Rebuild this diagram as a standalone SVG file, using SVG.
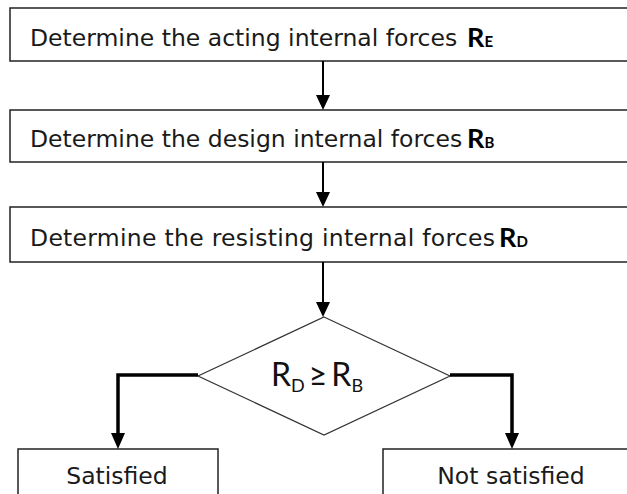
<svg xmlns="http://www.w3.org/2000/svg" width="627" height="494" viewBox="0 0 627 494">
<style>
.box{fill:#fff;stroke:#222;stroke-width:1.5}
.dia{fill:#fff;stroke:#333;stroke-width:1.2}
.t{font-family:"DejaVu Sans",Verdana,sans-serif;font-size:23.5px;fill:#1a1a1a}
.rb{font-family:Lato,"Open Sans",sans-serif;font-weight:bold;font-size:27px;fill:#000}
.rs{font-size:15px}
.rd{font-family:Lato,"Open Sans",sans-serif;font-size:32px;fill:#111}
.rds{font-size:18px}
.c{stroke:#000;stroke-width:2;fill:none}
.ct{stroke:#000;stroke-width:3.5;fill:none}
</style>
<rect width="627" height="494" fill="#fff"/>
<g id="box1"><rect class="box" x="10" y="8" width="630" height="53"/>
<text class="t" x="30" y="46">Determine the acting internal forces</text>
<text class="rb" x="467" y="47">R<tspan class="rs">E</tspan></text></g>
<g id="box2"><rect class="box" x="10" y="110" width="630" height="52"/>
<text class="t" x="30" y="147">Determine the design internal forces</text>
<text class="rb" x="467" y="148">R<tspan class="rs">B</tspan></text></g>
<g id="box3"><rect class="box" x="10" y="207" width="630" height="55"/>
<text class="t" x="30" y="246" textLength="465" lengthAdjust="spacing">Determine the resisting internal forces</text>
<text class="rb" x="499" y="247">R<tspan class="rs">D</tspan></text></g>
<g id="decision"><polygon class="dia" points="324,317 450,376 324,435 198,376"/>
<text class="rd" x="271" y="386">R<tspan class="rds" dy="6">D</tspan><tspan dy="-6" dx="4">≥</tspan><tspan dx="4">R</tspan><tspan class="rds" dy="6">B</tspan></text></g>
<g id="satisfied"><rect class="box" x="18" y="449" width="200" height="60"/>
<text class="t" x="117" y="484" text-anchor="middle">Satisfied</text></g>
<g id="notsatisfied"><rect class="box" x="383" y="449" width="260" height="60"/>
<text class="t" x="511" y="484" text-anchor="middle">Not satisfied</text></g>
<g id="connectors">
<line class="c" x1="323" y1="61" x2="323" y2="95"/>
<polygon points="316,95 330,95 323,110" fill="#000"/>
<line class="c" x1="323" y1="162" x2="323" y2="192"/>
<polygon points="316,192 330,192 323,207" fill="#000"/>
<line class="c" x1="323" y1="262" x2="323" y2="302"/>
<polygon points="316,302 330,302 323,317" fill="#000"/>
<polyline class="ct" points="198,375 118,375 118,433"/>
<polygon points="111,433 125,433 118,449" fill="#000"/>
<polyline class="ct" points="450,375 512,375 512,433"/>
<polygon points="505,433 519,433 512,449" fill="#000"/>
</g>
</svg>
